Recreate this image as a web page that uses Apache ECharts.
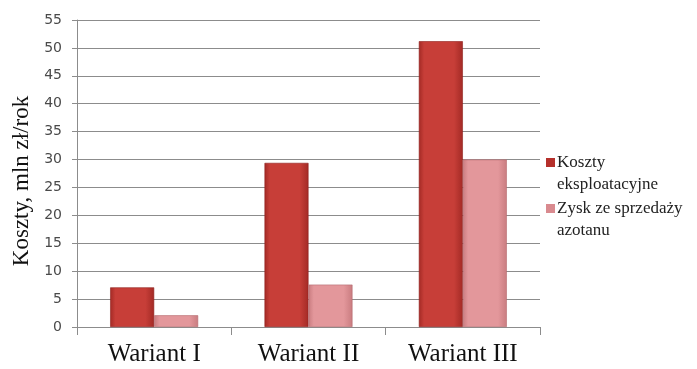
<!DOCTYPE html>
<html>
<head>
<meta charset="utf-8">
<script src="https://cdn.jsdelivr.net/npm/echarts@6/dist/echarts.min.js"></script>
<style>
  html, body { margin: 0; padding: 0; background: #fff; }
  #chart { width: 697px; height: 369px; }
</style>
</head>
<body>
<div id="chart"></div>
<script>
// Operating costs vs. nitrate sales profit per variant (mln zł/year)
const categories = ['Wariant I', 'Wariant II', 'Wariant III'];
const seriesNames = ['Koszty\neksploatacyjne', 'Zysk ze sprzedaży\nazotanu'];
const kosztyValues = [7.1, 29.4, 51.2];
const zyskValues = [2.1, 7.6, 30.0];
const yTicks = [0, 5, 10, 15, 20, 25, 30, 35, 40, 45, 50, 55];
const yTitle = 'Koszty, mln zł/rok';

const chart = echarts.init(document.getElementById('chart'));

function barGradient(edge, mid) {
  return new echarts.graphic.LinearGradient(0, 0, 1, 0, [
    { offset: 0, color: edge },
    { offset: 0.12, color: mid },
    { offset: 0.8, color: mid },
    { offset: 1, color: edge }
  ]);
}

const darkFill = barGradient('#a32a25', '#c73e38');
const lightFill = barGradient('#c97c80', '#e3979b');

chart.setOption({
  animation: false,
  backgroundColor: '#ffffff',
  grid: { left: 77, right: 157, top: 20, bottom: 42, containLabel: false },
  xAxis: {
    type: 'category',
    data: categories,
    axisLine: { lineStyle: { color: '#8c8c8c', width: 1 } },
    axisTick: { show: true, length: 8, lineStyle: { color: '#8c8c8c' } },
    axisLabel: {
      fontFamily: 'Liberation Serif', fontSize: 25, color: '#111', margin: 15
    }
  },
  yAxis: {
    type: 'value',
    min: yTicks[0],
    max: yTicks[yTicks.length - 1],
    interval: 5,
    axisLine: { show: true, lineStyle: { color: '#8c8c8c', width: 1 } },
    axisTick: { show: true, length: 5, lineStyle: { color: '#8c8c8c' } },
    axisLabel: { fontFamily: 'DejaVu Sans', fontSize: 14, color: '#4a4a4a', margin: 15 },
    splitLine: { lineStyle: { color: '#8c8c8c', width: 1 } }
  },
  series: [
    {
      name: seriesNames[0], type: 'bar', data: kosztyValues,
      barGap: '0%', barCategoryGap: '43%',
      itemStyle: { color: darkFill, borderColor: '#8e1f1b', borderWidth: 0.6 }
    },
    {
      name: seriesNames[1], type: 'bar', data: zyskValues,
      itemStyle: { color: lightFill, borderColor: '#b66a6f', borderWidth: 0.6 }
    }
  ],
  graphic: [
    {
      type: 'text', x: 22, y: 181, rotation: Math.PI / 2,
      style: { text: yTitle, font: '23px "Liberation Serif"', fill: '#111', align: 'center', verticalAlign: 'middle' }
    },
    { type: 'rect', shape: { x: 546, y: 158, width: 9, height: 9 }, style: { fill: '#b5302b' } },
    { type: 'text', x: 557, y: 152, style: { text: seriesNames[0], font: '17px "Liberation Serif"', fill: '#222', lineHeight: 22 } },
    { type: 'rect', shape: { x: 546, y: 204, width: 9, height: 9 }, style: { fill: '#d98a8f' } },
    { type: 'text', x: 557, y: 198, style: { text: seriesNames[1], font: '17px "Liberation Serif"', fill: '#222', lineHeight: 22 } }
  ]
});
</script>
</body>
</html>
